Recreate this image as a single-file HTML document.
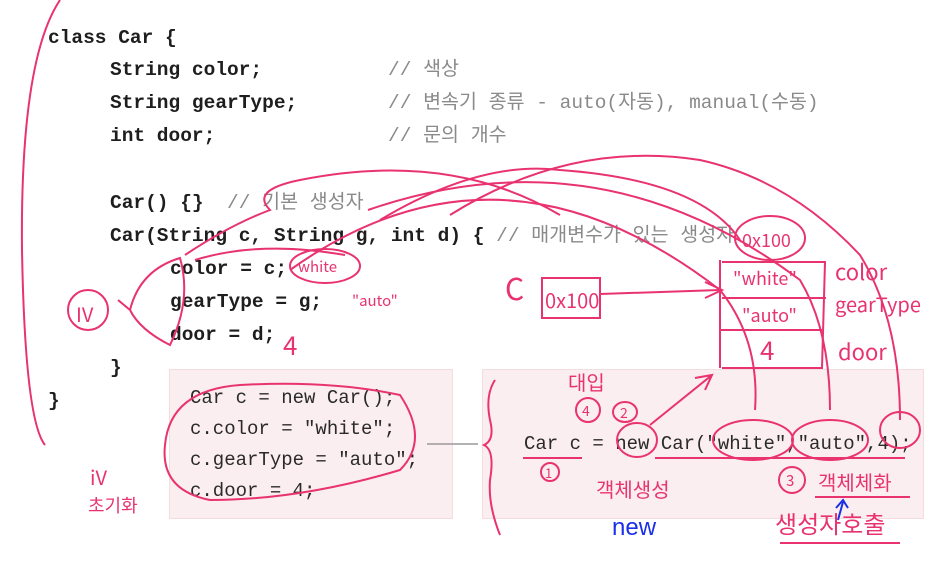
<!DOCTYPE html>
<html><head><meta charset="utf-8"><style>
body{margin:0;width:930px;height:564px;background:#fff;position:relative;overflow:hidden;font-family:"Liberation Mono","Noto Sans CJK KR",monospace}
.t{position:absolute;white-space:pre;font-size:19.5px;font-weight:bold;color:#1e1e1e;line-height:24px}
.c{color:#8a8a8a;font-weight:normal;font-family:"Liberation Mono","Noto Sans CJK KR",monospace}
.b{position:absolute;background:#fbeef0;border:1px solid #f3dde1}
.s{position:absolute;white-space:pre;font-size:19px;color:#2a2a2a;line-height:24px}
svg{position:absolute;left:0;top:0}
.h{font-family:"Noto Sans CJK KR",sans-serif;fill:#e8336f}
</style></head><body>
<div class="t" style="left:48px;top:26px">class Car {</div>
<div class="t" style="left:110px;top:58px">String color;</div>
<div class="t c" style="left:388px;top:58px">// 색상</div>
<div class="t" style="left:110px;top:91px">String gearType;</div>
<div class="t c" style="left:388px;top:91px">// 변속기 종류 - auto(자동), manual(수동)</div>
<div class="t" style="left:110px;top:124px">int door;</div>
<div class="t c" style="left:388px;top:124px">// 문의 개수</div>
<div class="t" style="left:110px;top:191px">Car() {}  <span class="c">// 기본 생성자</span></div>
<div class="t" style="left:110px;top:224px">Car(String c, String g, int d) { <span class="c">// 매개변수가 있는 생성자</span></div>
<div class="t" style="left:170px;top:257px">color = c;</div>
<div class="t" style="left:170px;top:290px">gearType = g;</div>
<div class="t" style="left:170px;top:323px">door = d;</div>
<div class="t" style="left:110px;top:356px">}</div>
<div class="t" style="left:48px;top:389px">}</div>
<div class="b" style="left:169px;top:369px;width:282px;height:148px"></div>
<div class="b" style="left:482px;top:369px;width:440px;height:148px"></div>
<div class="s" style="left:190px;top:386px">Car c = new Car();</div>
<div class="s" style="left:190px;top:417px">c.color = "white";</div>
<div class="s" style="left:190px;top:448px">c.gearType = "auto";</div>
<div class="s" style="left:190px;top:479px">c.door = 4;</div>
<div class="s" style="left:524px;top:432px">Car c = new Car("white","auto",4);</div>
<svg width="930" height="564" fill="none" stroke="#e8336f" stroke-width="2">
<line x1="427" y1="444" x2="478" y2="444" stroke="#999" stroke-width="1.5"/>
<path d="M60 0 Q20 60 22 250 Q25 420 45 445"/>
<path d="M495 380 Q485 395 490 420 Q495 440 484 445 Q495 450 490 480 Q488 505 500 535"/>
<ellipse cx="88" cy="310" rx="20" ry="20"/>
<path d="M118 300 L130 310 Q140 270 180 258 Q192 300 170 345 Q140 330 130 310"/>
<path d="M185 255 Q230 225 270 210 Q250 190 300 180 Q450 150 560 215"/>
<path d="M195 260 Q260 240 345 255"/>
<ellipse cx="325" cy="266" rx="35" ry="17"/>
<path d="M380 220 Q480 160 560 170 Q700 180 740 240"/>
<path d="M450 215 Q570 140 700 160 Q790 180 860 255 Q900 320 900 420"/>
<path d="M368 210 Q600 130 800 280 Q830 330 830 410"/>
<path d="M290 270 Q500 120 720 290 Q760 340 755 410"/>
<ellipse cx="770" cy="238" rx="35" ry="22"/>
<rect x="542" y="278" width="58" height="40"/>
<line x1="600" y1="294" x2="720" y2="290"/><path d="M705 282 L722 290 L705 298"/>
<path d="M720 260 L720 368 M722 262 L825 262 L822 368 L722 368 M722 298 L826 298 M720 330 L822 330"/>
<ellipse cx="637" cy="440" rx="20" ry="17"/>
<ellipse cx="753" cy="440" rx="40" ry="20"/>
<ellipse cx="830" cy="440" rx="38" ry="20"/>
<ellipse cx="900" cy="430" rx="20" ry="18"/>
<path d="M650 425 L712 375 M695 378 L712 375 L705 390"/>
<ellipse cx="625" cy="412" rx="12" ry="10"/>
<circle cx="588" cy="410" r="12"/><circle cx="550" cy="472" r="9"/><circle cx="792" cy="480" r="13"/>
<line x1="523" y1="458" x2="582" y2="458"/><line x1="655" y1="458" x2="905" y2="458"/>
<line x1="815" y1="497" x2="910" y2="497"/><line x1="780" y1="543" x2="900" y2="543"/>
<path d="M165 445 Q170 390 240 385 Q330 380 400 395 Q430 440 400 470 Q300 500 210 500 Q160 490 165 445"/>
<text class="h" stroke="none" x="505" y="300" font-size="30">C</text>
<text class="h" stroke="none" x="545" y="308" font-size="20">0x100</text>
<text class="h" stroke="none" x="742" y="247" font-size="18">0x100</text>
<text class="h" stroke="none" x="733" y="285" font-size="18">"white"</text>
<text class="h" stroke="none" x="742" y="322" font-size="18">"auto"</text>
<text class="h" stroke="none" x="760" y="360" font-size="26">4</text>
<text class="h" stroke="none" x="835" y="280" font-size="22">color</text>
<text class="h" stroke="none" x="835" y="312" font-size="20">gearType</text>
<text class="h" stroke="none" x="838" y="360" font-size="22">door</text>
<text class="h" stroke="none" x="76" y="322" font-size="20">IV</text>
<text class="h" stroke="none" x="298" y="272" font-size="15">white</text>
<text class="h" stroke="none" x="352" y="306" font-size="15">"auto"</text>
<text class="h" stroke="none" x="283" y="355" font-size="26">4</text>
<text class="h" stroke="none" x="90" y="485" font-size="20">iV</text>
<text class="h" stroke="none" x="88" y="512" font-size="18">초기화</text>
<text class="h" stroke="none" x="568" y="390" font-size="20">대입</text>
<text class="h" stroke="none" x="582" y="416" font-size="14">4</text>
<text class="h" stroke="none" x="620" y="418" font-size="14">2</text>
<text class="h" stroke="none" x="545" y="478" font-size="13">1</text>
<text class="h" stroke="none" x="786" y="486" font-size="15">3</text>
<text class="h" stroke="none" x="596" y="497" font-size="20">객체생성</text>
<text class="h" stroke="none" x="818" y="490" font-size="20">객체체화</text>
<text class="h" stroke="none" x="775" y="533" font-size="24">생성자호출</text>
<text stroke="none" x="612" y="535" font-size="24" fill="#1a2fe8" font-family="Liberation Sans,sans-serif">new</text>
<path d="M838 520 L843 502 M836 508 L843 500 L848 508" stroke="#1a2fe8"/>
</svg>
</body></html>
